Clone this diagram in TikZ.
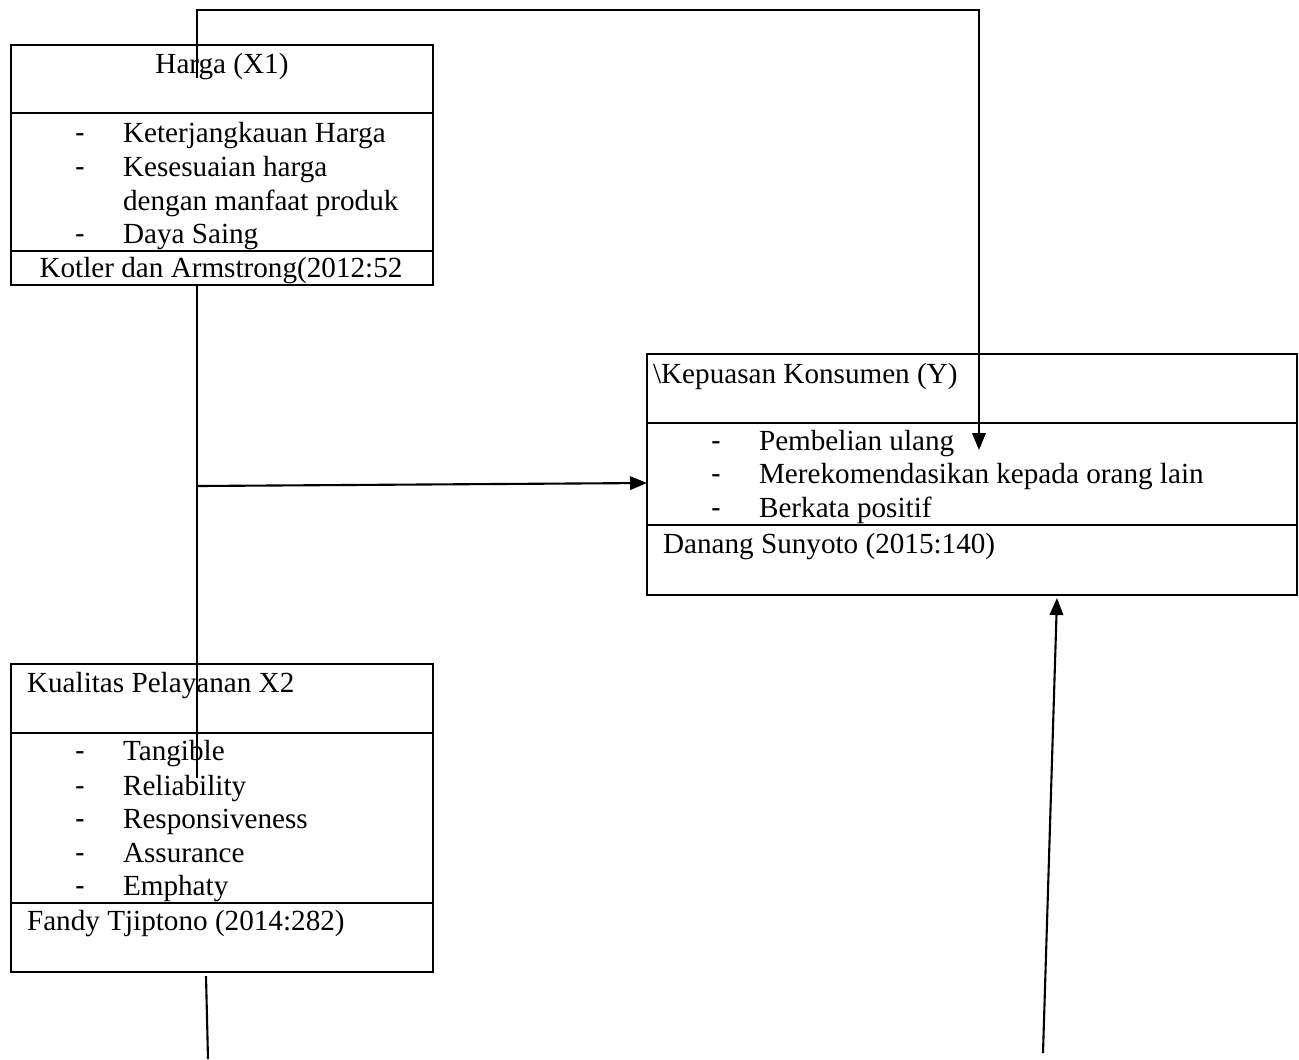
\documentclass[tikz,border=0pt]{standalone}
\usepackage{fontspec}
\setmainfont{Liberation Serif}
\newfontfamily\dashfont{Liberation Sans}
\usetikzlibrary{arrows.meta}

\begin{document}
\begin{tikzpicture}[x=0.02cm, y=-0.02cm, line width=1.2pt,
    font=\fontsize{16.6}{19}\selectfont,
    box/.style={draw, rectangle, inner sep=0pt, line width=1.4pt},
    sep/.style={line width=1.4pt},
    txt/.style={inner sep=0pt, anchor=base west},
    bullet/.style={inner sep=0pt, anchor=base west, font=\dashfont\fontsize{16.6}{19}\selectfont},
    arr/.style={-{Triangle[length=0.34cm, width=0.27cm]}}]
    \useasboundingbox (0,0) rectangle (1299,1059);

    % Harga
    \node[box, minimum width=8.44cm, minimum height=4.8cm] (harga) at (222,165) {};
    \draw[sep] (11,113) -- (433,113);
    \draw[sep] (11,251) -- (433,251);
    \node[txt, anchor=base] (hargaH) at (222,73) {Harga (X1)};
    \node[bullet] (hd1) at (74,142) {-};
    \node[txt] (h1) at (122,142) {Keterjangkauan Harga};
    \node[bullet] (hd2) at (74,176) {-};
    \node[txt] (h2) at (122,176) {Kesesuaian harga};
    \node[txt] (h3) at (122,210) {dengan manfaat produk};
    \node[bullet] (hd4) at (74,243) {-};
    \node[txt] (h4) at (122,243) {Daya Saing};
    \node[txt, anchor=base] (hargaF) at (221,277) {Kotler dan Armstrong(2012:52};

    % Kepuasan Konsumen
    \node[box, minimum width=13cm, minimum height=4.82cm] (kepuasan) at (972,474.5) {};
    \draw[sep] (647,423) -- (1297,423);
    \draw[sep] (647,525) -- (1297,525);
    \node[txt] (kepuasanH) at (652,383) {\textbackslash Kepuasan Konsumen (Y)};
    \node[bullet] (yd1) at (710,450) {-};
    \node[txt] (y1) at (758,450) {Pembelian ulang};
    \node[bullet] (yd2) at (710,483) {-};
    \node[txt] (y2) at (758,483) {Merekomendasikan kepada orang lain};
    \node[bullet] (yd3) at (710,517) {-};
    \node[txt] (y3) at (758,517) {Berkata positif};
    \node[txt] (kepuasanF) at (662,553) {Danang Sunyoto (2015:140)};

    % Kualitas Pelayanan
    \node[box, minimum width=8.44cm, minimum height=6.16cm] (kualitas) at (222,818) {};
    \draw[sep] (11,733) -- (433,733);
    \draw[sep] (11,903) -- (433,903);
    \node[txt] (kualitasH) at (26,692) {Kualitas Pelayanan X2};
    \node[bullet] (kd1) at (74,760) {-};
    \node[txt] (k1) at (122,760) {Tangible};
    \node[bullet] (kd2) at (74,795) {-};
    \node[txt] (k2) at (122,795) {Reliability};
    \node[bullet] (kd3) at (74,828) {-};
    \node[txt] (k3) at (122,828) {Responsiveness};
    \node[bullet] (kd4) at (74,862) {-};
    \node[txt] (k4) at (122,862) {Assurance};
    \node[bullet] (kd5) at (74,895) {-};
    \node[txt] (k5) at (122,895) {Emphaty};
    \node[txt] (kualitasF) at (26,930) {Fandy Tjiptono (2014:282)};

    % connectors
    \coordinate (hIn) at (197,78);
    \coordinate (c1) at (197,10);
    \coordinate (c2) at (979,10);
    \coordinate (yTip) at (979,450);
    \coordinate (kIn) at (197,778);
    \coordinate (mid) at (198,486);
    \coordinate (yIn) at (647,483);
    \coordinate (rBot) at (1043,1053);
    \coordinate (rTip) at (1057,598);
    \coordinate (lTop) at (206,976);
    \coordinate (lBot) at (208,1059);

    \draw[arr] (hIn) -- (c1) -- (c2) -- (yTip);
    \draw (harga.south -| c1) -- (kIn);
    \draw[arr] (mid) -- (yIn);
    \draw[arr] (rBot) -- (rTip);
    \draw (lTop) -- (lBot);
\end{tikzpicture}
\end{document}
